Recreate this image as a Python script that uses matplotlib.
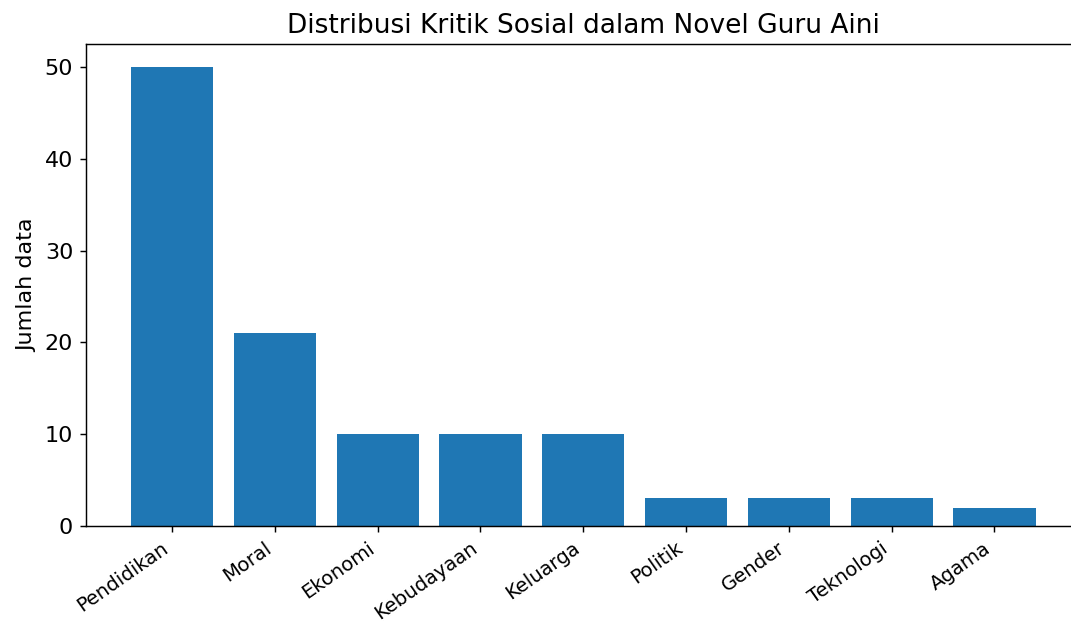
import matplotlib
matplotlib.use("Agg")
import matplotlib.pyplot as plt

categories = ["Pendidikan", "Moral", "Ekonomi", "Kebudayaan", "Keluarga",
              "Politik", "Gender", "Teknologi", "Agama"]
counts = [50, 21, 10, 10, 10, 3, 3, 3, 2]

DPI = 130
fig = plt.figure(figsize=(1071 / DPI, 625 / DPI), dpi=DPI)
# the right spine sits just past the picture edge in the reference
ax = fig.add_axes([0.0801, 0.1584, 0.929, 0.7712])
ax.bar(categories, counts, color="#1f77b4")
ax.spines["right"].set_visible(False)
ax.set_ylabel("Jumlah data", fontsize=12.3)
ax.set_title("Distribusi Kritik Sosial dalam Novel Guru Aini", fontsize=14.6)
plt.setp(ax.get_xticklabels(), rotation=35, ha="right", fontsize=10.9)
ax.tick_params(axis="y", labelsize=12.3)
ax.set_yticks([0, 10, 20, 30, 40, 50])

fig.savefig("out.png", dpi=DPI)
